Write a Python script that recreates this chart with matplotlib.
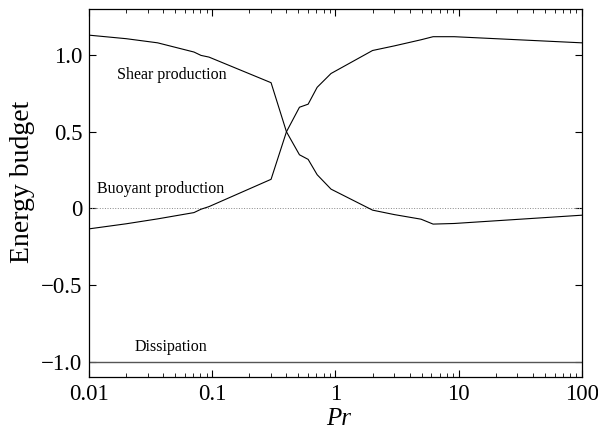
import matplotlib
matplotlib.use('Agg')
import matplotlib.pyplot as plt
from matplotlib.ticker import LogLocator, NullFormatter

# Prandtl numbers where the curves were sampled
pr = [0.01, 0.02, 0.036, 0.071, 0.081, 0.094, 0.30, 0.40, 0.51, 0.60, 0.71, 0.92,
      2.0, 3.0, 4.95, 6.2, 9.2, 100]

shear = [1.13, 1.107, 1.08, 1.02, 0.998, 0.987, 0.82, 0.50, 0.35, 0.32, 0.22, 0.126,
         -0.011, -0.04, -0.07, -0.102, -0.098, -0.044]
buoyant = [-0.133, -0.10, -0.068, -0.027, -0.005, 0.012, 0.19, 0.50, 0.66, 0.68, 0.79, 0.88,
           1.03, 1.06, 1.10, 1.12, 1.12, 1.08]
dissipation = [-1.0] * len(pr)

yticks = [-1.0, -0.5, 0, 0.5, 1.0]
yticklabels = ['\u22121.0', '\u22120.5', '0', '0.5', '1.0']
xticks = [0.01, 0.1, 1, 10, 100]
xticklabels = ['0.01', '0.1', '1', '10', '100']

plt.rcParams['font.family'] = ['Liberation Serif', 'DejaVu Serif']

fig = plt.figure(figsize=(5.98, 4.33), dpi=100)
ax = fig.add_axes([0.149, 0.129, 0.824, 0.850])

ax.axhline(0, color='#888888', linestyle=':', linewidth=0.7)
ax.plot(pr, shear, color='black', linewidth=0.8)
ax.plot(pr, buoyant, color='black', linewidth=0.8)
ax.plot(pr, dissipation, color='#555555', linewidth=1.0)

ax.set_xscale('log')
ax.set_xlim(0.01, 100)
ax.set_ylim(-1.1, 1.3)
ax.set_xticks(xticks)
ax.set_xticklabels(xticklabels)
ax.xaxis.set_minor_locator(LogLocator(base=10, subs=range(2, 10)))
ax.xaxis.set_minor_formatter(NullFormatter())
ax.set_yticks(yticks)
ax.set_yticklabels(yticklabels)
ax.tick_params(which='both', direction='in', top=True, right=True, labelsize=16.5)
ax.tick_params(which='major', length=5, width=0.8)
ax.tick_params(which='minor', length=3, width=0.6)
ax.tick_params(axis='x', pad=5)
ax.tick_params(axis='y', pad=5)
for s in ax.spines.values():
    s.set_linewidth(0.9)

ax.set_xlabel('Pr', style='italic', fontsize=18)
ax.xaxis.set_label_coords(0.507, -0.085)
ax.set_ylabel('Energy budget', fontsize=20)
ax.yaxis.set_label_coords(-0.11, 0.53)

ax.text(0.047, 0.873, 'Shear production', fontsize=11.5, ha='center', va='center')
ax.text(0.038, 0.13, 'Buoyant production', fontsize=11.5, ha='center', va='center')
ax.text(0.0465, -0.905, 'Dissipation', fontsize=11.5, ha='center', va='center')

fig.savefig('out.png', dpi=100)
